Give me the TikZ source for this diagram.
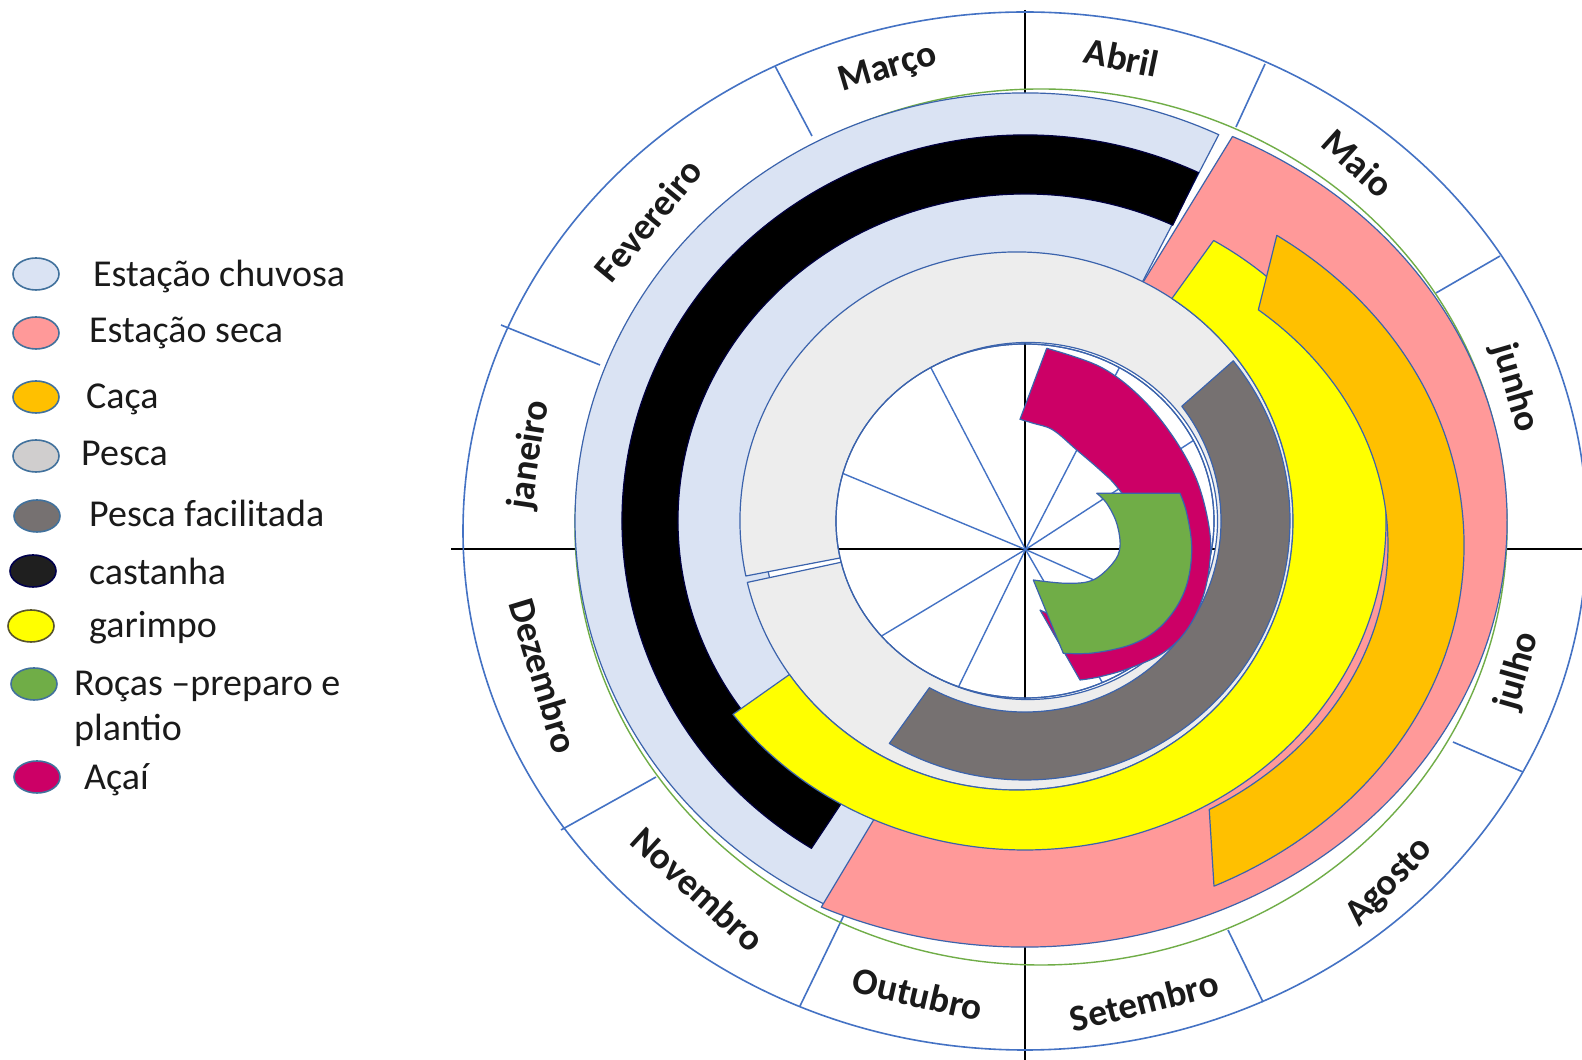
\documentclass[tikz,border=0pt]{standalone}
\usepackage{fontspec}
\setmainfont{Carlito}
\usetikzlibrary{shapes.geometric}
\definecolor{ringblue}{HTML}{3B63AC}
\definecolor{sepblue}{HTML}{4472C4}
\definecolor{chuva}{HTML}{DAE3F3}
\definecolor{seca}{HTML}{FF9999}
\definecolor{caca}{HTML}{FFC000}
\definecolor{pescaL}{HTML}{EDEDED}
\definecolor{pescaLeg}{HTML}{D0CECE}
\definecolor{pescaF}{HTML}{767171}
\definecolor{garimpoY}{HTML}{FFFF00}
\definecolor{rocas}{HTML}{70AD47}
\definecolor{acai}{HTML}{CC0066}
\definecolor{txt}{HTML}{1A1A1A}
\definecolor{legline}{HTML}{41719C}
\begin{document}
\begin{tikzpicture}[x=1pt,y=1pt,
  band/.style={draw=ringblue, line width=1.2pt, line join=round},
  axisline/.style={draw=black, line width=2pt},
  sepline/.style={draw=sepblue, line width=1.6pt},
  spoke/.style={draw=sepblue, line width=1.4pt},
  month/.style={font=\bfseries\fontsize{37.5}{41}\selectfont, text=txt, inner sep=0pt},
  legtext/.style={font=\fontsize{38}{43}\selectfont, text=txt, anchor=base west, inner sep=0pt},
  legmark/.style={ellipse, draw=legline, line width=1.6pt, minimum width=46pt, minimum height=32pt, inner sep=0pt},
]
\useasboundingbox (0,0) rectangle (1582,1060);
\fill[white] (0,0) rectangle (1582,1060);

% ---------- axes ----------
\draw[axisline] (451,511) -- (1582,511);
\draw[axisline] (1025,1050) -- (1025,0);

% ---------- month ring ----------
\draw[draw=sepblue, line width=1.6pt] (1025,529) ellipse [x radius=562, y radius=519];
\draw[sepline] (1265,996) -- (1236,933);
\draw[sepline] (1500,804) -- (1436,767);
\draw[sepline] (1523,288) -- (1453,318);
\draw[sepline] (1263,58) -- (1228,130);
\draw[sepline] (800,54) -- (845,147);
\draw[sepline] (561,230) -- (656,283);
\draw[sepline] (501,735) -- (600,695);
\draw[sepline] (775,994) -- (812,924);
\draw[draw=rocas, line width=1.4pt] (1041,533) ellipse [x radius=466, y radius=438];

% ---------- seasons ----------
\path[band, fill=chuva] ([shift={(1025,539)}]64.5:450 and 428) arc[start angle=64.5,end angle=245,x radius=450,y radius=428]
  -- ([shift={(1025,539)}]245:262 and 255) arc[start angle=245,end angle=64.5,x radius=262,y radius=255] -- cycle;
\path[band, fill=seca] ([shift={(1025,539)}]64.5:482 and 426) arc[start angle=64.5,end angle=-115,x radius=482,y radius=426]
  -- ([shift={(1025,539)}]-115:262 and 255) arc[start angle=-115,end angle=64.5,x radius=262,y radius=255] -- cycle;

% ---------- castanha ----------
\path[draw=black!75!blue, line width=1.2pt, fill=black] ([shift={(1025,539)}]64.5:403 and 386) arc[start angle=64.5,end angle=238,x radius=403,y radius=386]
  -- ([shift={(1025,539)}]238.5:347 and 327) arc[start angle=238.5,end angle=64.8,x radius=347,y radius=327] -- cycle;

% ---------- pesca ring ----------
\path[band, fill=pescaL] ([shift={(1016.5,539)}]-166.8:276.5 and 269) arc[start angle=-166.8,end angle=191.8,x radius=276.5,y radius=269]
  -- ([shift={(1028,539)}]191.8:189.5 and 178.5) arc[start angle=191.8,end angle=-166.8,x radius=189.5,y radius=178.5] -- cycle;

% ---------- inner white disc with spokes ----------
\path[band, fill=white] (1025,539) ellipse [x radius=189, y radius=177];
\begin{scope}
  \clip (1025,539) ellipse [x radius=189, y radius=177];
  \draw[axisline] (800,511) -- (1250,511);
  \draw[axisline] (1025,300) -- (1025,800);
  \foreach \a in {62.7,33,-24,-60,-116,-149,157.4,117.5}
    \draw[spoke] (1025.5,510.5) -- ++(\a:320);
\end{scope}
\path[band] (1025,539) ellipse [x radius=189, y radius=177];

% ---------- pesca facilitada ----------
\path[band, fill=pescaF] ([shift={(1025,539)}]38.2:265 and 259) arc[start angle=38.2,end angle=-120.8,x radius=265,y radius=259]
  -- ([shift={(1025,539)}]-119.2:196 and 191) arc[start angle=-119.2,end angle=36.9,x radius=196,y radius=191] -- cycle;

% ---------- garimpo ----------
\path[band, fill=garimpoY] ([shift={(1025,539)}]58.5:361 and 329) arc[start angle=58.5,end angle=-144,x radius=361,y radius=329]
  -- ([shift={(1016.5,539)}]-145.2:276.5 and 269) arc[start angle=-145.2,end angle=55.8,x radius=276.5,y radius=269] -- cycle;

% ---------- caca ----------
\path[band, fill=caca] ([shift={(1025,515)}]55:439 and 378) arc[start angle=55,end angle=-64.5,x radius=439,y radius=378]
  -- ([shift={(1025,515)}]-59.5:363 and 307) arc[start angle=-59.5,end angle=50,x radius=363,y radius=307] -- cycle;

% ---------- acai ----------
\path[band, fill=acai] plot[smooth, tension=0.6] coordinates {(1046.7,711.7) (1100,693.3) (1140,663.3) (1173,623.3) (1196.7,580) (1209,533.3) (1210,500) (1203,463.3) (1186.7,430) (1163,407) (1130,392) (1100,383.3) (1080,380)}
  -- (1040,450)
  -- plot[smooth, tension=0.6] coordinates {(1040,450) (1090,435) (1130,460) (1150,500) (1140,540) (1116.7,573.3) (1100,590) (1076.7,610) (1053,630) (1033.3,636.7) (1020,640.7)}
  -- cycle;

% ---------- rocas ----------
\path[band, fill=rocas] (1096.7,566.7) -- (1180,566.7)
  -- plot[smooth, tension=0.6] coordinates {(1180,566.7) (1186.7,547) (1191.7,513.3) (1188,480) (1176.7,453.3) (1156.7,430) (1130,415) (1093,407) (1063.3,406.7)}
  -- (1033.3,480)
  -- plot[smooth, tension=0.6] coordinates {(1033.3,480) (1066.7,476.7) (1093,480) (1113,497) (1120,513.3) (1116.7,536.7) (1106.7,556.7) (1096.7,566.7)}
  -- cycle;

% ---------- month labels ----------
\node[month, rotate=16.5]  (mar) at (888,991)   {Março};
\node[month, rotate=-11.6] (abr) at (1122,1002.5) {Abril};
\node[month, rotate=-42.1] (mai) at (1358,897)  {Maio};
\node[month, rotate=-73.7] (jun) at (1515,672)  {junho};
\node[month, rotate=74.1]  (jul) at (1518,389)  {julho};
\node[month, rotate=46]    (ago) at (1390,177)  {Agosto};
\node[month, rotate=14.2]  (set) at (1144,59)   {Setembro};
\node[month, rotate=-13]   (out) at (918,66)    {Outubro};
\node[month, rotate=-42.4] (nov) at (698,171)   {Novembro};
\node[month, rotate=-73.2] (dez) at (544,384)   {Dezembro};
\node[month, rotate=81.3]  (jan) at (530,605)   {janeiro};
\node[month, rotate=50.5]  (fev) at (648,840)   {Fevereiro};

% ---------- legend ----------
\node[legmark, fill=chuva]    (m1) at (36,786) {};
\node[legmark, fill=seca]     (m2) at (36,727) {};
\node[legmark, fill=caca]     (m3) at (36,663) {};
\node[legmark, fill=pescaLeg] (m4) at (36,604) {};
\node[legmark, fill=pescaF]   (m5) at (37,544) {};
\node[legmark, fill=black!88, draw=black!70!blue] (m6) at (33,489) {};
\node[legmark, fill=garimpoY, draw=black!50!olive] (m7) at (31,434) {};
\node[legmark, fill=rocas]    (m8) at (34,376) {};
\node[legmark, fill=acai]     (m9) at (37,283) {};

\node[legtext] (t1) at (93,773.5) {Estação chuvosa};
\node[legtext] (t2) at (89,717) {Estação seca};
\node[legtext] (t3) at (86,651) {Caça};
\node[legtext] (t4) at (81,594) {Pesca};
\node[legtext] (t5) at (89,533) {Pesca facilitada};
\node[legtext] (t6) at (89,475) {castanha};
\node[legtext] (t7) at (89,422) {garimpo};
\node[legtext] (t8) at (74,364) {Roças –preparo e};
\node[legtext] (t8b) at (74,319) {plantio};
\node[legtext] (t9) at (84,270) {Açaí};
\end{tikzpicture}
\end{document}
